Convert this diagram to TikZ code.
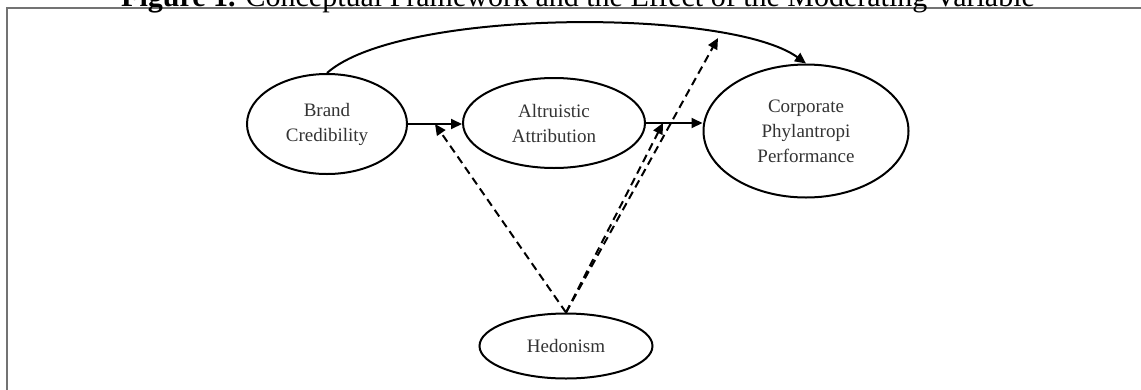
\documentclass[tikz,border=0pt]{standalone}
\usepackage{fontspec}
\setmainfont{Liberation Serif}
\usetikzlibrary{shapes.geometric,arrows.meta}
\tikzset{
  var/.style={draw, ellipse, line width=2pt, inner sep=0pt, align=center,
    font=\fontsize{19}{25}\selectfont, text=black!80},
  solidarr/.style={line width=2pt, -{Triangle[length=11pt,width=10pt]}},
  modarr/.style={line width=2pt, dash pattern=on 8pt off 5pt, -{Triangle[length=11pt,width=10pt]}},
  framestyle/.style={line width=2pt, draw=black!55}
}
\begin{document}
\begin{tikzpicture}[x=1pt,y=-1pt]
\useasboundingbox (0,0) rectangle (1141,389);
% frame (runs off right and bottom)
\draw[framestyle] (1150,8) -- (7,8) -- (7,400);
% title (cut at the top)
\node[anchor=base, inner sep=0pt, font=\fontsize{30}{34}\selectfont] (title) at (578,6)
  {\textbf{Figure 1.} Conceptual Framework and the Effect of the Moderating Variable};
% variables
\node[var, minimum width=160pt, minimum height=100pt] (brand) at (327,124) {Brand\\Credibility};
\node[var, minimum width=182pt, minimum height=90pt] (alt) at (554,123) {Altruistic\\Attribution};
\node[var, minimum width=205pt, minimum height=133pt] (corp) at (806,131) {Corporate\\Phylantropi\\Performance};
\node[var, minimum width=173pt, minimum height=65pt] (hed) at (566,346) {Hedonism};
% direct paths
\draw[solidarr] (brand.east) -- (brand.east -| alt.west) coordinate[pos=0.5] (m1);
\draw[solidarr] (alt.east) -- (alt.east -| corp.west) coordinate[pos=0.3] (m2);
\draw[solidarr] (brand.north) .. controls (400,8) and (730,8) .. (corp.north);
\coordinate (m3) at (718,38);
% moderating paths
\draw[modarr] (hed.north) -- (m1);
\draw[modarr] (hed.north) -- (m2);
\draw[modarr] (hed.north) -- (m3);
\end{tikzpicture}
\end{document}
